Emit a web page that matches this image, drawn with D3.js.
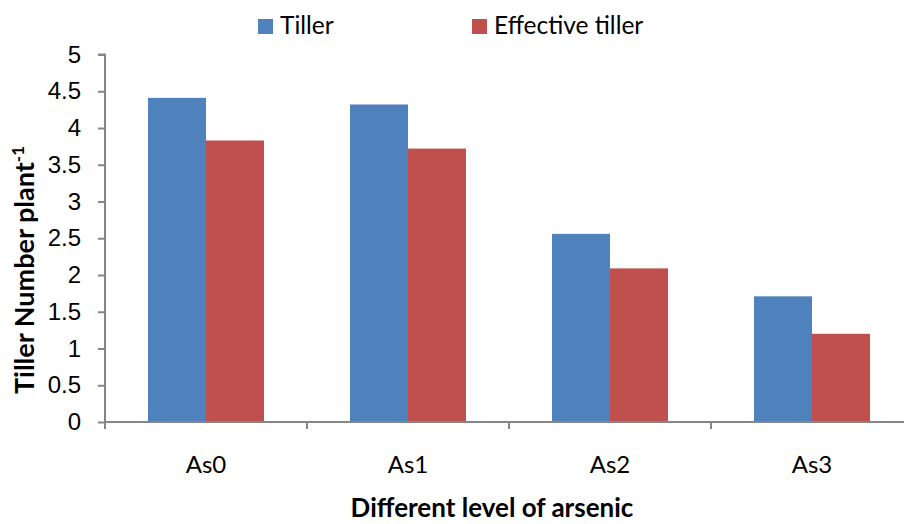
<!DOCTYPE html>
<html>
<head>
<meta charset="utf-8">
<script src="https://cdn.jsdelivr.net/npm/d3@7"></script>
<style>
  body { margin: 0; background: #fff; }
  svg { display: block; font-family: Lato, "Open Sans", sans-serif; }
  .axis path, .axis line { stroke: #868686; stroke-width: 2; }
  .axis text { fill: #000; font-size: 24px; }
</style>
</head>
<body>
<div class="chart"></div>
<script>
var levels = ["As0", "As1", "As2", "As3"];
var seriesNames = ["Tiller", "Effective tiller"];
var tiller = [4.41, 4.32, 2.56, 1.71];
var effectiveTiller = [3.83, 3.72, 2.09, 1.20];
var yTicks = [0, 0.5, 1, 1.5, 2, 2.5, 3, 3.5, 4, 4.5, 5];
var colors = ["#4f81bd", "#c0504d"];

var width = 904, height = 524;
var margin = { top: 54.5, right: -9, bottom: 102, left: 105 };
var w = width - margin.left - margin.right;
var h = height - margin.top - margin.bottom;

var svg = d3.select(".chart").append("svg")
  .attr("width", width)
  .attr("height", height);

var chart = svg.append("g")
  .attr("transform", `translate(${margin.left},${margin.top})`);

var data = levels.map((d, i) => ({ level: d, values: [tiller[i], effectiveTiller[i]] }));

var x0 = d3.scaleBand().domain(levels).range([0, w]).paddingInner(0).paddingOuter(0);
var x1 = d3.scaleBand().domain(seriesNames).range([43, x0.bandwidth() - 43]);
var y = d3.scaleLinear().domain([0, 5]).range([h, 0]);

// y axis
chart.append("g")
  .attr("class", "y axis")
  .call(d3.axisLeft(y).tickValues(yTicks).tickSize(7).tickPadding(17).tickFormat(d3.format("")))
  .call(g => g.select(".domain").attr("d", `M-7,0H0V${h}`));

// bars
var groups = chart.selectAll(".grp")
  .data(data)
  .enter().append("g")
  .attr("class", "grp")
  .attr("transform", d => `translate(${x0(d.level)},0)`);

groups.selectAll("rect")
  .data(d => d.values.map((v, i) => ({ key: seriesNames[i], value: v, i: i })))
  .enter().append("rect")
  .attr("x", d => x1(d.key))
  .attr("width", x1.bandwidth())
  .attr("y", d => y(d.value))
  .attr("height", d => h - y(d.value))
  .attr("fill", d => colors[d.i]);

// x axis with ticks on category boundaries
var xAxisG = chart.append("g")
  .attr("class", "x axis")
  .attr("transform", `translate(0,${h})`);
xAxisG.append("line").attr("x1", 0).attr("x2", w);
xAxisG.selectAll(".bt")
  .data(levels)
  .enter().append("line")
  .attr("class", "bt")
  .attr("x1", d => x0(d)).attr("x2", d => x0(d))
  .attr("y1", 0).attr("y2", 7);
xAxisG.selectAll(".lbl")
  .data(levels)
  .enter().append("text")
  .attr("class", "lbl")
  .attr("x", d => x0(d) + x0.bandwidth() / 2)
  .attr("y", 51)
  .attr("text-anchor", "middle")
  .text(d => d);

// axis titles
var yTitle = svg.append("text")
  .attr("transform", "translate(34,270) rotate(-90)")
  .attr("text-anchor", "middle")
  .attr("font-weight", "bold")
  .attr("font-size", 27);
yTitle.append("tspan").text("Tiller Number plant");
yTitle.append("tspan").attr("dy", -10).attr("font-size", 17).text("-1");

svg.append("text")
  .attr("x", 492)
  .attr("y", 517)
  .attr("text-anchor", "middle")
  .attr("font-weight", "bold")
  .attr("font-size", 26)
  .text("Different level of arsenic");

// legend
var legendX = [258, 472];
var legend = svg.selectAll(".legend")
  .data(seriesNames)
  .enter().append("g")
  .attr("class", "legend")
  .attr("transform", (d, i) => `translate(${legendX[i]},19)`);
legend.append("rect").attr("width", 15).attr("height", 15).attr("fill", (d, i) => colors[i]);
legend.append("text").attr("x", 22).attr("y", 15).attr("font-size", 24.5).text(d => d);
</script>
</body>
</html>
